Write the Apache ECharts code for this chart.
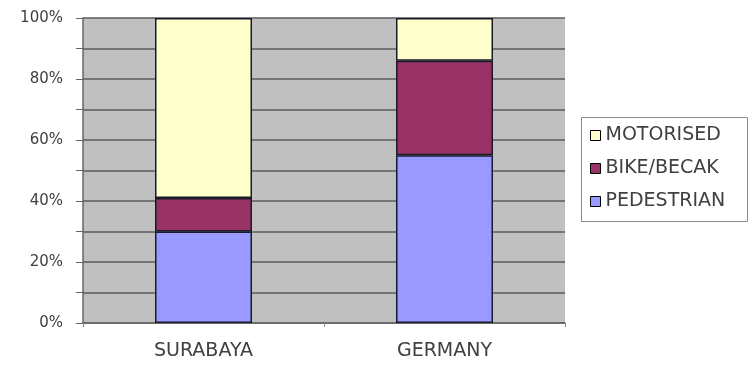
<!DOCTYPE html>
<html>
<head>
<meta charset="utf-8">
<script src="https://cdn.jsdelivr.net/npm/echarts@6/dist/echarts.min.js"></script>
<style>html,body{margin:0;padding:0;background:#fff;}#c{width:752px;height:365px;}</style>
</head>
<body>
<div id="c"></div>
<script>
var categories = ['SURABAYA', 'GERMANY'];
var pedestrian = [30, 55];
var bikeBecak = [11, 31];
var motorised = [59, 14];
var legendOrder = ['MOTORISED', 'BIKE/BECAK', 'PEDESTRIAN'];

var chart = echarts.init(document.getElementById('c'), null, {renderer: 'canvas'});
var font = 'DejaVu Sans';
function barSeries(name, data, color) {
  return {
    name: name, type: 'bar', stack: 'total', data: data, barWidth: 97,
    itemStyle: {color: color, borderColor: '#1a1a2a', borderWidth: 1.5},
    emphasis: {disabled: true}
  };
}
chart.setOption({
  animation: false,
  backgroundColor: '#fff',
  graphic: [{
    type: 'rect', z: 0,
    shape: {x: 581.5, y: 117.5, width: 166, height: 104},
    style: {fill: '#fff', stroke: '#8a8a8a', lineWidth: 1}
  }],
  grid: {left: 83, right: 187, top: 18, bottom: 42, show: true, backgroundColor: '#c0c0c0', borderWidth: 0},
  legend: {
    data: legendOrder, orient: 'vertical', left: 581, top: 117,
    padding: [9, 10, 10, 9], itemGap: 14, itemWidth: 10, itemHeight: 10, icon: 'rect',
    itemStyle: {borderColor: '#000', borderWidth: 1},
    textStyle: {fontFamily: font, fontSize: 19, color: '#404040', padding: [0,0,0,0]},
    selectedMode: false
  },
  xAxis: {
    type: 'category', data: categories,
    axisLine: {lineStyle: {color: '#666', width: 1.5}},
    axisTick: {show: true, length: 4, lineStyle: {color: '#888'}},
    axisLabel: {fontFamily: font, fontSize: 19, color: '#404040', margin: 19}
  },
  yAxis: {
    type: 'value', min: 0, max: 100, interval: 10,
    axisLine: {show: true, lineStyle: {color: '#666', width: 1.5}},
    axisTick: {show: true, length: 7, lineStyle: {color: '#666'}},
    axisLabel: {fontFamily: font, fontSize: 15, color: '#404040', margin: 20,
      formatter: function (v) { return v % 20 === 0 ? v + '%' : ''; }},
    splitLine: {show: true, lineStyle: {color: '#5c5c5c', width: 1.6}}
  },
  series: [
    barSeries('PEDESTRIAN', pedestrian, '#9999ff'),
    barSeries('BIKE/BECAK', bikeBecak, '#993366'),
    barSeries('MOTORISED', motorised, '#ffffcc')
  ]
});
</script>
</body>
</html>
